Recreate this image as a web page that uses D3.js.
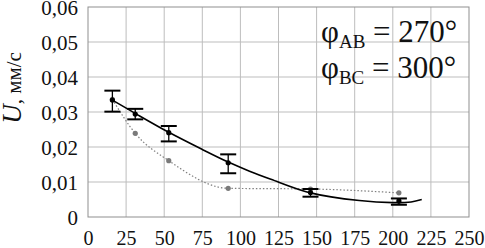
<!DOCTYPE html>
<html><head><meta charset="utf-8">
<script src="https://cdn.jsdelivr.net/npm/d3@7"></script>
<style>body{margin:0;background:#fff}svg{display:block}</style>
</head><body>
<script>
// Data
const xTicks = [0,25,50,75,100,125,150,175,200,225,250];
const yTicks = [0,0.01,0.02,0.03,0.04,0.05,0.06];
const yTickLabels = ["0","0,01","0,02","0,03","0,04","0,05","0,06"];
// measured points with error bars
const measX = [16,31,53,92,146,204];
const measY = [0.0334,0.0294,0.0241,0.0155,0.0070,0.0046];
const measLo = [0.0301,0.0279,0.0216,0.0125,0.0058,0.0035];
const measHi = [0.0361,0.0309,0.0260,0.0179,0.0080,0.0053];
// fitted trend curve
const fitX = [16,31,53,75,92,106,120,146,178,200,212,219];
const fitY = [0.0334,0.0296,0.0242,0.0193,0.0157,0.0131,0.0108,0.0069,0.0047,0.0041,0.0043,0.0050];
// dotted grey series
const dotX = [16,31,53,92,146,204];
const dotY = [0.0336,0.0239,0.0161,0.0082,0.0080,0.0069];

const FF='"Liberation Serif"';
const W=485,H=248;
const svg=d3.select("body").append("svg").attr("width",W).attr("height",H);
const x=d3.scaleLinear().domain([0,250]).range([88,469]);
const y=d3.scaleLinear().domain([0,0.06]).range([217,7]);

// grid
svg.append("g").selectAll("line").data(xTicks.slice(1,-1)).join("line")
  .attr("x1",d=>x(d)).attr("x2",d=>x(d)).attr("y1",y(0)).attr("y2",y(0.06))
  .attr("stroke","#bdbdbd").attr("stroke-width",1);
svg.append("g").selectAll("line").data(yTicks.slice(1,-1)).join("line")
  .attr("x1",x(0)).attr("x2",x(250)).attr("y1",d=>y(d)).attr("y2",d=>y(d))
  .attr("stroke","#bdbdbd").attr("stroke-width",1);
svg.append("rect").attr("x",x(0)).attr("y",y(0.06)).attr("width",x(250)-x(0)).attr("height",y(0)-y(0.06))
  .attr("fill","none").attr("stroke","#8f8f8f").attr("stroke-width",1);

const xAxis=d3.axisBottom(x).tickValues(xTicks).tickSize(0).tickPadding(0).tickFormat(d3.format("d"));
const gx=svg.append("g").attr("transform",`translate(0,${y(0)})`).call(xAxis).attr("font-family",null);
gx.select(".domain").remove();
gx.selectAll("text").attr("y",28).attr("dy",0).attr("fill","#111")
  .style("font-family",FF).style("font-size","20px");

const yAxis=d3.axisLeft(y).tickValues(yTicks).tickSize(0).tickPadding(0).tickFormat((d,i)=>yTickLabels[i]);
const gy=svg.append("g").attr("transform",`translate(${x(0)},0)`).call(yAxis).attr("font-family",null);
gy.select(".domain").remove();
gy.selectAll("text").attr("x",-10).attr("dy","0.34em").attr("fill","#111")
  .style("font-family",FF).style("font-size","21px");

// y title
const yt=svg.append("text").attr("transform","translate(21,88) rotate(-90)")
  .attr("text-anchor","middle").attr("fill","#111").style("font-family",FF);
yt.append("tspan").style("font-style","italic").style("font-size","27px").text("U");
yt.append("tspan").style("font-size","21px").text(", мм/с");

// dotted series
const dotData=dotX.map((v,i)=>[v,dotY[i]]);
svg.append("path").datum(dotData).attr("d",d3.line().x(d=>x(d[0])).y(d=>y(d[1])).curve(d3.curveMonotoneX))
  .attr("fill","none").attr("stroke","#808080").attr("stroke-width",1.2).attr("stroke-dasharray","1.5,2");
svg.append("g").selectAll("circle").data(dotData).join("circle")
  .attr("cx",d=>x(d[0])).attr("cy",d=>y(d[1])).attr("r",2.6).attr("fill","#7a7a7a");

// fitted curve
const fitData=fitX.map((v,i)=>[v,fitY[i]]);
svg.append("path").datum(fitData).attr("d",d3.line().x(d=>x(d[0])).y(d=>y(d[1])).curve(d3.curveCatmullRom.alpha(0.5)))
  .attr("fill","none").attr("stroke","#000").attr("stroke-width",1.6);

// error bars
const meas=measX.map((v,i)=>({x:v,y:measY[i],lo:measLo[i],hi:measHi[i]}));
const eb=svg.append("g").selectAll("g").data(meas).join("g");
eb.append("line").attr("x1",d=>x(d.x)).attr("x2",d=>x(d.x)).attr("y1",d=>y(d.lo)).attr("y2",d=>y(d.hi))
  .attr("stroke","#000").attr("stroke-width",1.3);
eb.append("line").attr("x1",d=>x(d.x)-8).attr("x2",d=>x(d.x)+8).attr("y1",d=>y(d.lo)).attr("y2",d=>y(d.lo))
  .attr("stroke","#000").attr("stroke-width",2);
eb.append("line").attr("x1",d=>x(d.x)-8).attr("x2",d=>x(d.x)+8).attr("y1",d=>y(d.hi)).attr("y2",d=>y(d.hi))
  .attr("stroke","#000").attr("stroke-width",2);
eb.append("circle").attr("cx",d=>x(d.x)).attr("cy",d=>y(d.y)).attr("r",2.6).attr("fill","#000");

// annotations
function phi(yb,sub,val){
  const t=svg.append("text").attr("x",321).attr("y",yb).attr("fill","#111")
    .style("font-family",FF).style("font-size","31px");
  t.append("tspan").text("φ");
  t.append("tspan").style("font-size","19px").attr("dy",6).text(sub);
  t.append("tspan").attr("dy",-6).text(" = "+val);
}
phi(42,"AB","270°");
phi(78,"BC","300°");
</script>
</body></html>
